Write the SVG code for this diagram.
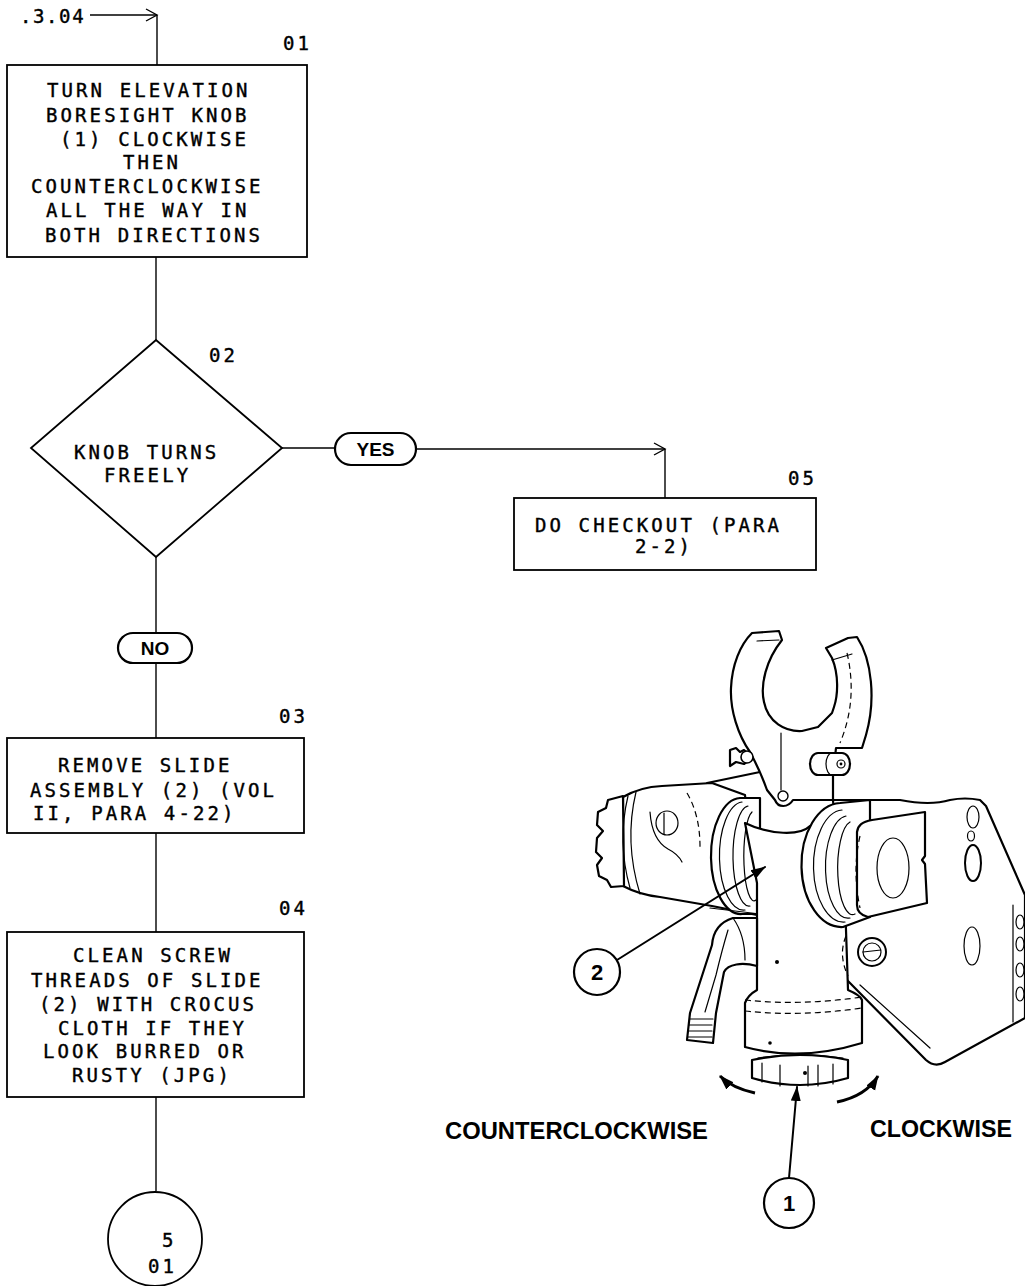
<svg xmlns="http://www.w3.org/2000/svg" width="1025" height="1286" viewBox="0 0 1025 1286">
<style>
.bx{fill:#fff;stroke:#000;stroke-width:1.8}
.cn{fill:none;stroke:#000;stroke-width:1.4}
.t{font-family:"DejaVu Sans Mono","Liberation Mono",monospace;font-size:19px;letter-spacing:3.1px;fill:#000;stroke:#000;stroke-width:0.4}
.b{font-family:"Liberation Sans",Arial,sans-serif;font-weight:bold;fill:#000}
.ol{fill:#fff;stroke:#000;stroke-width:2.2;stroke-linejoin:round;stroke-linecap:round}
.ln{fill:none;stroke:#000;stroke-width:2;stroke-linecap:round;stroke-linejoin:round}
.th{fill:none;stroke:#000;stroke-width:1.2;stroke-linecap:round}
.ds{fill:none;stroke:#000;stroke-width:1.2;stroke-dasharray:6 4}
</style>
<defs>
<marker id="open" markerWidth="14" markerHeight="14" refX="12" refY="7" orient="auto" markerUnits="userSpaceOnUse">
<path d="M1,1 L12,7 L1,13" fill="none" stroke="#000" stroke-width="1.4"/>
</marker>
<marker id="fill" markerWidth="16" markerHeight="12" refX="14" refY="6" orient="auto" markerUnits="userSpaceOnUse">
<path d="M0,1 L15,6 L0,11 Z" fill="#000"/>
</marker>
</defs>
<rect width="1025" height="1286" fill="#fff"/>

<g id="connectors">
<path class="cn" d="M90,15 H157" marker-end="url(#open)"/>
<path class="cn" d="M157,15 V65"/>
<path class="cn" d="M156,257 V340"/>
<path class="cn" d="M282,448 H335"/>
<path class="cn" d="M416,449 H665" marker-end="url(#open)"/>
<path class="cn" d="M665,449 V498"/>
<path class="cn" d="M156,557 V633"/>
<path class="cn" d="M156,663 V738"/>
<path class="cn" d="M156,833 V932"/>
<path class="cn" d="M156,1097 V1191"/>
</g>

<g id="start-ref">
<text class="t" x="20" y="23" style="letter-spacing:1.6px">.3.04</text>
</g>

<g id="n01">
<rect class="bx" x="7" y="65" width="300" height="192"/>
<text class="t" x="283" y="50">01</text>
<text class="t" x="47" y="97">TURN ELEVATION</text>
<text class="t" x="46" y="122">BORESIGHT KNOB</text>
<text class="t" x="60" y="146">(1) CLOCKWISE</text>
<text class="t" x="123" y="169">THEN</text>
<text class="t" x="31" y="193">COUNTERCLOCKWISE</text>
<text class="t" x="46" y="217">ALL THE WAY IN</text>
<text class="t" x="45" y="242">BOTH DIRECTIONS</text>
</g>

<g id="n02">
<polygon class="bx" points="156,340 282,448 156,557 31,448"/>
<text class="t" x="209" y="362">02</text>
<text class="t" x="74" y="459">KNOB TURNS</text>
<text class="t" x="104" y="482">FREELY</text>
</g>

<g id="yes">
<rect x="335" y="433" width="81" height="32" rx="16" fill="#fff" stroke="#000" stroke-width="2.2"/>
<text class="b" x="375.5" y="456" font-size="19" text-anchor="middle">YES</text>
</g>

<g id="no">
<rect x="118" y="633" width="74" height="30" rx="15" fill="#fff" stroke="#000" stroke-width="2.2"/>
<text class="b" x="155" y="655" font-size="19" text-anchor="middle">NO</text>
</g>

<g id="n05">
<rect class="bx" x="514" y="498" width="302" height="72"/>
<text class="t" x="788" y="485">05</text>
<text class="t" x="535" y="532">DO CHECKOUT (PARA</text>
<text class="t" x="635" y="553">2-2)</text>
</g>

<g id="n03">
<rect class="bx" x="7" y="738" width="297" height="95"/>
<text class="t" x="279" y="723">03</text>
<text class="t" x="58" y="772">REMOVE SLIDE</text>
<text class="t" x="30" y="797">ASSEMBLY (2) (VOL</text>
<text class="t" x="33" y="820">II, PARA 4-22)</text>
</g>

<g id="n04">
<rect class="bx" x="7" y="932" width="297" height="165"/>
<text class="t" x="279" y="915">04</text>
<text class="t" x="73" y="962">CLEAN SCREW</text>
<text class="t" x="31" y="987">THREADS OF SLIDE</text>
<text class="t" x="39" y="1011">(2) WITH CROCUS</text>
<text class="t" x="58" y="1035">CLOTH IF THEY</text>
<text class="t" x="43" y="1058">LOOK BURRED OR</text>
<text class="t" x="72" y="1082">RUSTY (JPG)</text>
</g>

<g id="offpage">
<circle cx="155" cy="1239" r="47" fill="#fff" stroke="#000" stroke-width="1.8"/>
<text class="t" x="162" y="1247">5</text>
<text class="t" x="148" y="1273">01</text>
</g>

<g id="illustration">
<path class="ol" d="M833,800 L900,800 Q930,806 950,800 Q965,797 980,800 L986,806 L1025,895 L1025,1018 L945,1062 Q935,1068 926,1060 L847,980 Z"/>
<path class="th" d="M860,985 L930,1048"/>
<line class="th" x1="1013" y1="905" x2="1013" y2="1022"/>
<ellipse class="th" cx="973" cy="817" rx="6" ry="11"/>
<ellipse class="th" cx="971" cy="836" rx="3.5" ry="5"/>
<ellipse cx="973" cy="863" rx="8" ry="18" fill="none" stroke="#000" stroke-width="2"/>
<ellipse class="th" cx="972" cy="946" rx="8" ry="19"/>
<ellipse class="th" cx="1020" cy="922" rx="4" ry="7"/>
<ellipse class="th" cx="1020" cy="944" rx="4" ry="7"/>
<ellipse class="th" cx="1020" cy="970" rx="4" ry="7"/>
<ellipse class="th" cx="1020" cy="994" rx="4" ry="7"/>
<path class="ln" d="M707,783 L760,772"/>
<path class="ol" d="M623,797 Q640,787 662,786 L712,783 L745,795 L757,915 L712,906 L660,897 Q640,895 623,886 Z"/>
<path class="ol" d="M623,796 L608,800 L606,808 L598,812 L597,825 L603,831 L597,838 L596,852 L602,858 L597,865 L599,876 L607,880 L611,887 L624,886 Z"/>
<path class="th" d="M628,796 Q617,842 630,888"/>
<path class="th" d="M636,792 Q624,842 640,894"/>
<ellipse class="th" cx="667" cy="823" rx="11" ry="12"/>
<line class="th" x1="664" y1="813" x2="664" y2="834"/>
<path class="th" d="M650,812 Q652,840 668,849 Q678,854 682,862"/>
<path class="ds" d="M687,793 Q700,815 700,847"/>
<path class="ol" d="M740,798 A30 58 0 0 0 742,914 L760,914 L760,798 Z"/>
<path class="th" d="M742,802 A24 54 0 0 0 745,910"/>
<path class="th" d="M748,806 A16 50 0 0 0 750,906"/>
<path class="th" d="M752,812 A10 44 0 0 0 756,900"/>
<path class="th" d="M710,908 L760,914"/>
<path class="ol" d="M745,823 C770,835 800,836 810,826 L845,900 L848,990 Q860,995 862,1000 L862,1043 Q800,1062 745,1047 L745,1003 Q748,995 757,990 L757,883 Z"/>
<path class="ds" d="M745,1000 Q800,1006 862,997"/>
<path class="ds" d="M745,1011 Q800,1017 862,1008"/>
<circle cx="777" cy="962" r="2" fill="#000"/>
<circle cx="770" cy="1043" r="1.8" fill="#000"/>
<path class="ol" d="M752,1060 L752,1078 Q800,1092 848,1078 L848,1060 Q800,1050 752,1060 Z"/>
<path class="th" d="M762,1063 V1082 M780,1065 V1086 M808,1066 V1086 M818,1065 V1086 M833,1064 V1084"/>
<path class="th" d="M758,1058 Q800,1051 843,1058"/>
<circle cx="805" cy="1073" r="2" fill="#000"/>
<path class="ol" d="M733,918 C720,922 713,932 712,945 L690,1013 L687,1040 L713,1043 L716,1013 L724,972 C728,964 742,962 757,966 L757,918 Z"/>
<path class="th" d="M690,1019 H713 M689,1025 H712 M688,1031 H712 M688,1037 H712"/>
<path class="th" d="M728,930 Q722,950 716,975 L705,1012"/>
<path class="th" d="M733,918 Q745,935 745,960"/>
<path class="ol" d="M840,803 A40 62 0 0 0 843,927 L870,917 L870,800 Z"/>
<path class="th" d="M842,810 A30 56 0 0 0 845,922"/>
<path class="th" d="M846,816 A22 50 0 0 0 850,918"/>
<path class="th" d="M850,822 A14 44 0 0 0 855,914"/>
<path class="ol" d="M857,832 C858,825 862,822 872,820 L925,812 L925,856 L922,860 L925,864 L927,903 L868,917 C860,915 857,910 857,905 Z"/>
<path class="ds" d="M860,836 Q852,870 860,908"/>
<ellipse class="th" cx="893" cy="868" rx="16" ry="30"/>
<path class="ds" d="M846,936 Q838,955 848,976"/>
<circle cx="872" cy="952" r="14" fill="#fff" stroke="#000" stroke-width="2"/>
<circle class="th" cx="872" cy="952" r="9"/>
<line class="th" x1="863" y1="952" x2="881" y2="950"/>
<path class="ol" d="M752,633 L779,631 L782,640 C766,660 760,685 764,702 C768,722 785,732 802,731 L818,727 L832,713 L834,707 C838,695 839,675 832,658 L826,648 L848,638 L857,637 C872,660 876,700 866,735 L862,748 L836,748 L833,775 L833,800 L793,800 C788,808 778,808 775,800 L767,790 C760,770 755,762 750,752 C738,735 730,710 731,688 C732,665 740,645 752,633 Z"/>
<path class="th" d="M757,641 L779,640"/>
<path class="th" d="M832,660 L852,654"/>
<path class="th" d="M781,733 V790"/>
<path class="ds" d="M847,653 Q858,700 840,743"/>
<circle cx="783" cy="796" r="5" fill="#fff" stroke="#000" stroke-width="1.4"/>
<path class="ol" d="M730,750 L736,748 L740,752 L744,750 L752,758 L744,764 L736,762 L730,766 Z"/>
<circle cx="747" cy="757" r="6" fill="#fff" stroke="#000" stroke-width="1.6"/>
<path class="ol" d="M818,753 L842,753 A8 11 0 0 1 842,775 L818,775 A8 11 0 0 1 818,753 Z"/>
<path class="th" d="M832,753 A6 11 0 0 0 832,775"/>
<circle cx="841" cy="764" r="4" fill="none" stroke="#000" stroke-width="1.2"/>
<circle cx="841" cy="764" r="1.4" fill="#000"/>
</g>

<g id="callout-2">
<path class="ln" d="M617,960 L765,867" marker-end="url(#fill)"/>
<circle cx="597" cy="972" r="23" fill="#fff" stroke="#000" stroke-width="2.2"/>
<text class="b" x="597" y="980" font-size="22" text-anchor="middle">2</text>
</g>

<g id="callout-1">
<path class="ln" d="M789,1178 L797,1087" marker-end="url(#fill)"/>
<circle cx="789" cy="1203" r="25" fill="#fff" stroke="#000" stroke-width="2.2"/>
<text class="b" x="789" y="1211" font-size="22" text-anchor="middle">1</text>
</g>

<g id="rotation">
<path fill="none" stroke="#000" stroke-width="3" d="M755,1093 Q732,1088 720,1076" marker-end="url(#fill)"/>
<path fill="none" stroke="#000" stroke-width="3" d="M837,1102 Q866,1096 878,1076" marker-end="url(#fill)"/>
<text class="b" x="445" y="1139" font-size="23" textLength="263" lengthAdjust="spacingAndGlyphs">COUNTERCLOCKWISE</text>
<text class="b" x="870" y="1137" font-size="23" textLength="142" lengthAdjust="spacingAndGlyphs">CLOCKWISE</text>
</g>
</svg>
